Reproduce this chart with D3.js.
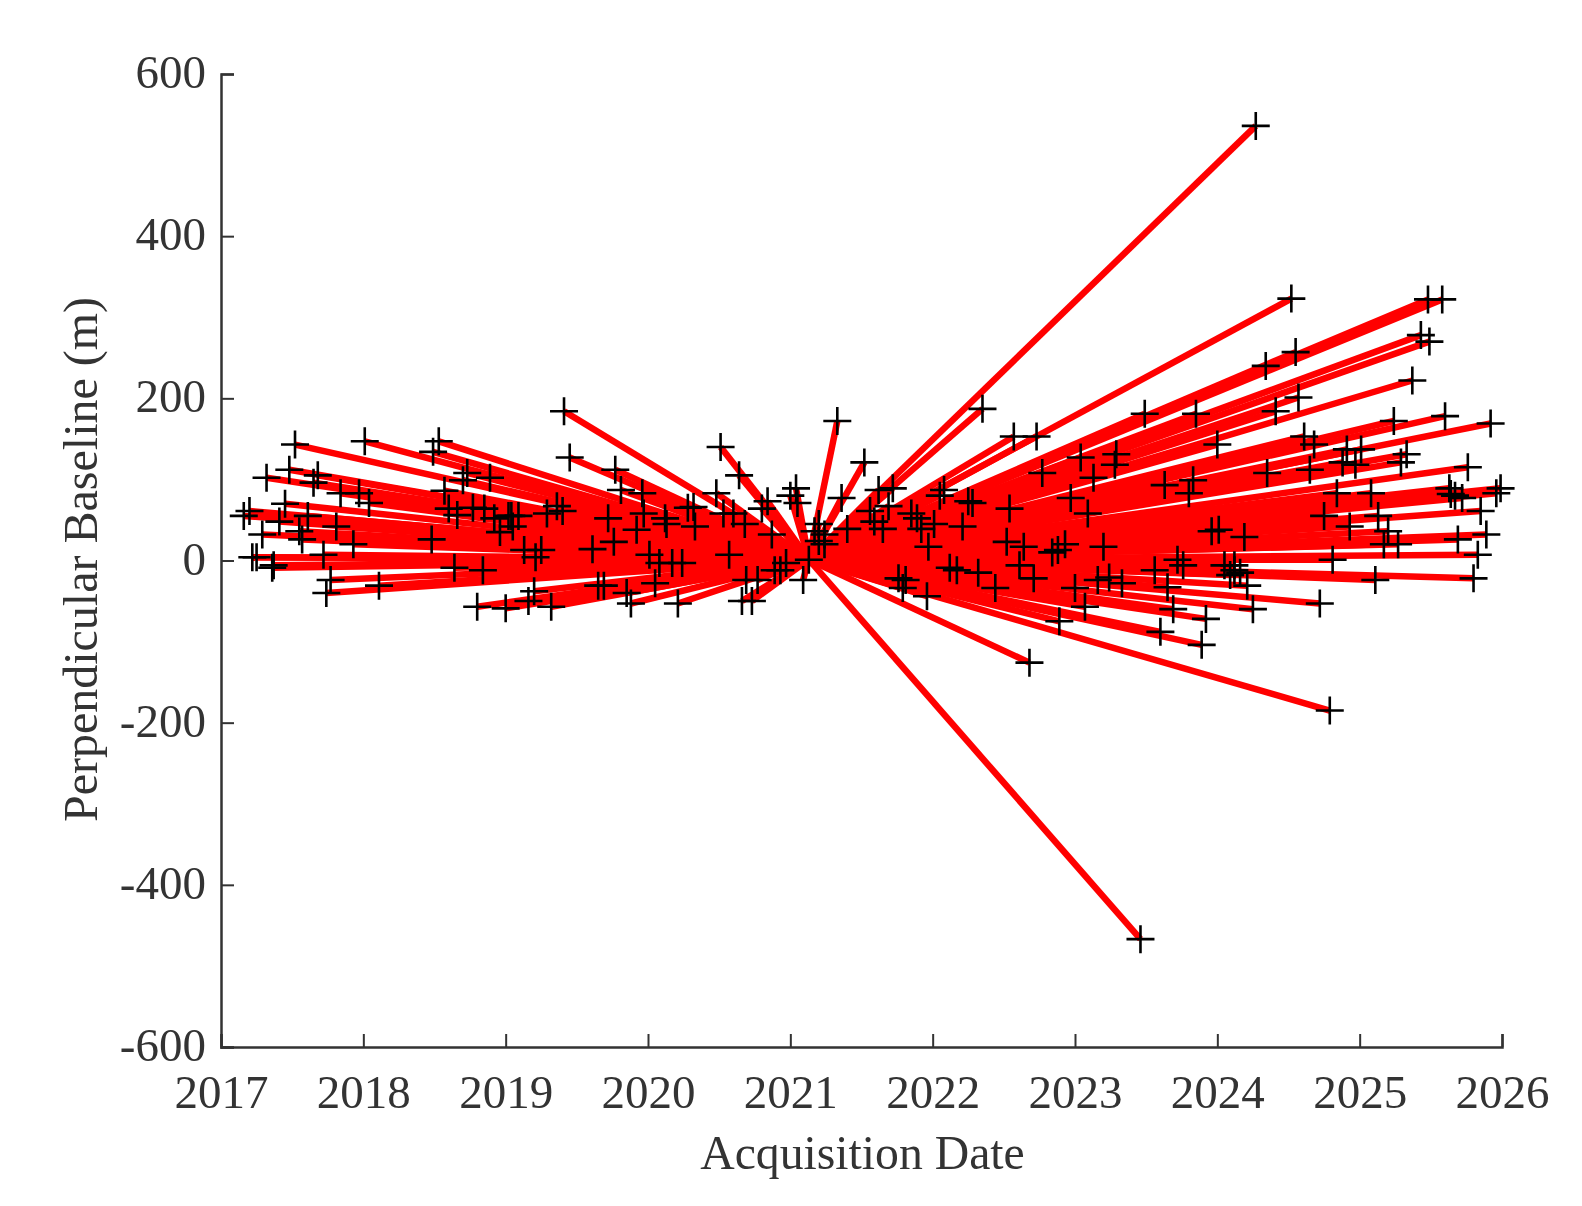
<!DOCTYPE html>
<html>
<head>
<meta charset="utf-8">
<script src="https://cdn.jsdelivr.net/npm/d3@7"></script>
<style>
  html, body { margin: 0; background: #fff; }
  text { font-family: "Liberation Serif", serif; fill: #333; }
  /* the source picture is a soft upscaled bitmap */
  svg { filter: blur(0.6px); }
</style>
</head>
<body>
<div id="chart"></div>
<script>
// every acquisition is paired with the one master date
var masterDate = 2021.13, masterBaseline = 1;

var acqDates = [
  2017.52,2018.01,2018.53,2018.49,2017.48,2017.32,2017.68,2017.65,2017.84,2017.97,2018.04,2018.73,2018.70,2018.89,2018.57,
  2018.60,2018.66,2018.77,2018.85,2018.92,2018.96,2019.02,2017.45,2017.20,2017.16,2017.61,2017.41,2017.81,2017.29,2017.55,
  2017.57,2017.93,2018.48,2017.72,2017.22,2017.25,2017.37,2017.36,2018.64,2018.84,2017.77,2017.74,2018.11,2018.80,2019.00,
  2019.41,2019.45,2019.77,2019.81,2019.96,2019.97,2019.36,2019.40,2019.29,2019.04,2019.09,2019.05,2019.13,2019.25,2019.21,
  2019.61,2019.72,2019.76,2019.92,2020.12,2020.13,2020.28,2020.32,2020.33,2020.01,2020.08,2020.17,2020.24,2020.57,2020.05,
  2019.20,2019.16,2019.32,2019.65,2019.69,2019.85,2019.88,2020.21,2020.69,2020.77,2020.66,2020.73,2020.51,2020.64,2020.48,
  2020.53,2020.60,2020.68,2020.84,2020.80,2020.87,2021.04,2021.00,2021.05,2020.89,2020.93,2020.97,2021.13,2021.09,2021.20,
  2021.24,2021.17,2021.24,2021.20,2021.33,2021.52,2022.35,2022.57,2022.73,2023.49,2023.04,2023.29,2023.28,2023.13,2022.77,
  2022.97,2023.63,2023.09,2022.54,2021.62,2021.72,2021.69,2021.36,2022.08,2022.05,2022.25,2022.28,2022.21,2021.56,2021.59,
  2021.65,2021.40,2021.85,2021.89,2022.01,2021.92,2021.97,2022.52,2022.64,2022.61,2022.71,2022.84,2022.88,2022.93,2023.20,
  2022.12,2022.17,2022.32,2022.44,2021.76,2021.81,2021.79,2021.96,2023.00,2023.07,2022.89,2022.68,2023.16,2023.24,2023.33,
  2023.56,2023.65,2023.60,2023.85,2024.41,2024.57,2025.37,2025.24,2025.60,2025.92,2024.00,2024.61,2024.68,2024.91,2025.01,
  2024.88,2024.97,2025.33,2025.29,2025.76,2024.35,2024.65,2023.83,2023.80,2024.84,2025.08,2025.63,2025.64,2025.67,2025.72,
  2025.99,2025.96,2025.85,2024.75,2025.13,2024.93,2025.20,2025.17,2025.27,2025.89,2025.69,2025.83,2024.81,2023.96,2024.01,
  2024.19,2023.72,2023.76,2024.05,2024.12,2024.16,2024.09,2024.12,2024.21,2025.11,2025.80,2023.69,2023.92,2024.25,2024.72,
  2023.89,2024.27,2024.52,2025.48,2025.58,2025.43,2025.49,2024.55,2024.34,2024.79,2023.46
];

var perpBaselines = [
  143,147,147,134,112,102,105,96,83,83,71,108,99,102,86,
  64,56,65,64,52,35,55,70,61,55,55,48,42,32,36,
  26,20,26,7,4,4,-6,-9,-9,-12,-24,-40,-31,-57,-59,
  184,127,112,87,83,58,67,61,58,55,55,42,13,13,4,
  14,52,23,38,52,45,65,66,42,7,-3,-3,-3,7,-28,
  -38,-50,-57,-31,-31,-40,-53,-53,-24,-24,-50,-50,140,105,83,
  58,58,45,73,64,32,89,80,71,-12,-12,-3,1,-24,45,
  32,36,20,24,172,121,187,153,153,181,127,131,118,102,108,
  77,93,58,64,87,89,67,77,87,80,73,71,42,61,48,
  39,39,58,52,45,39,17,23,17,-6,-22,10,13,20,17,
  -9,-12,-15,-34,-22,-24,-34,-44,-34,-57,-75,-126,-24,-21,-28,
  -12,-33,-88,181,184,201,222,172,178,169,143,153,143,137,137,
  121,118,131,121,115,108,112,99,83,83,83,89,82,80,77,
  89,83,61,55,55,42,36,20,20,32,26,7,1,36,38,
  29,1,-6,-6,-6,-15,-18,-12,-31,-24,-22,-60,-72,-60,-53,
  -104,536,323,322,322,278,270,257,240,-185,-467
];

var yearTicks = [2017,2018,2019,2020,2021,2022,2023,2024,2025,2026];
var baselineTicks = [-600,-400,-200,0,200,400,600];

var margin = {top: 74, right: 80, bottom: 159, left: 221},
    width = 1582 - margin.left - margin.right,
    height = 1206 - margin.top - margin.bottom;

var svg = d3.select("#chart")
  .append("svg")
    .attr("width", 1582)
    .attr("height", 1206)
    .style("display", "block");

var g = svg.append("g")
    .attr("transform", "translate(" + margin.left + "," + margin.top + ")");

var x = d3.scaleLinear().domain([2017, 2026]).range([0, width]);
var y = d3.scaleLinear().domain([-600, 600]).range([height, 0]);

// network lines
g.append("g")
  .selectAll("line")
  .data(acqDates)
  .enter().append("line")
    .attr("x1", x(masterDate))
    .attr("y1", y(masterBaseline))
    .attr("x2", function(d) { return x(d); })
    .attr("y2", function(d, i) { return y(perpBaselines[i]); })
    .attr("stroke", "#ff0000")
    .attr("stroke-width", 6.5);

// + markers
var armLen = 14;
g.append("g")
  .selectAll("path")
  .data(acqDates)
  .enter().append("path")
    .attr("d", function(d, i) {
      var px = x(d), py = y(perpBaselines[i]);
      return "M" + (px - armLen) + "," + py + "H" + (px + armLen) +
             "M" + px + "," + (py - armLen) + "V" + (py + armLen);
    })
    .attr("fill", "none")
    .attr("stroke", "#000")
    .attr("stroke-width", 2.6);

// axes, ticks point inward like matlab
var xAxis = g.append("g")
    .attr("transform", "translate(0," + height + ")")
    .call(d3.axisBottom(x).tickValues(yearTicks).tickFormat(d3.format("d")).tickSize(-13).tickPadding(28));
var yAxis = g.append("g")
    .call(d3.axisLeft(y).tickValues(baselineTicks).tickFormat(function(d) { return String(d); }).tickSize(-13).tickPadding(15));

[xAxis, yAxis].forEach(function(a) {
  a.attr("font-family", null).attr("font-size", null);
  a.selectAll("text").style("font-size", "47px");
  a.selectAll("line").attr("stroke", "#333").attr("stroke-width", 2);
  a.select(".domain").attr("stroke", "#333").attr("stroke-width", 2.5);
});
yAxis.selectAll("text").attr("dy", "0.29em");

g.append("text")
    .attr("x", width / 2 + 1)
    .attr("y", height + 122)
    .attr("text-anchor", "middle")
    .style("font-size", "47.7px")
    .text("Acquisition Date");

g.append("text")
    .attr("transform", "translate(-124," + (height / 2 - 1) + ") rotate(-90)")
    .attr("text-anchor", "middle")
    .style("font-size", "48px")
    .text("Perpendicular Baseline (m)");
</script>
</body>
</html>
